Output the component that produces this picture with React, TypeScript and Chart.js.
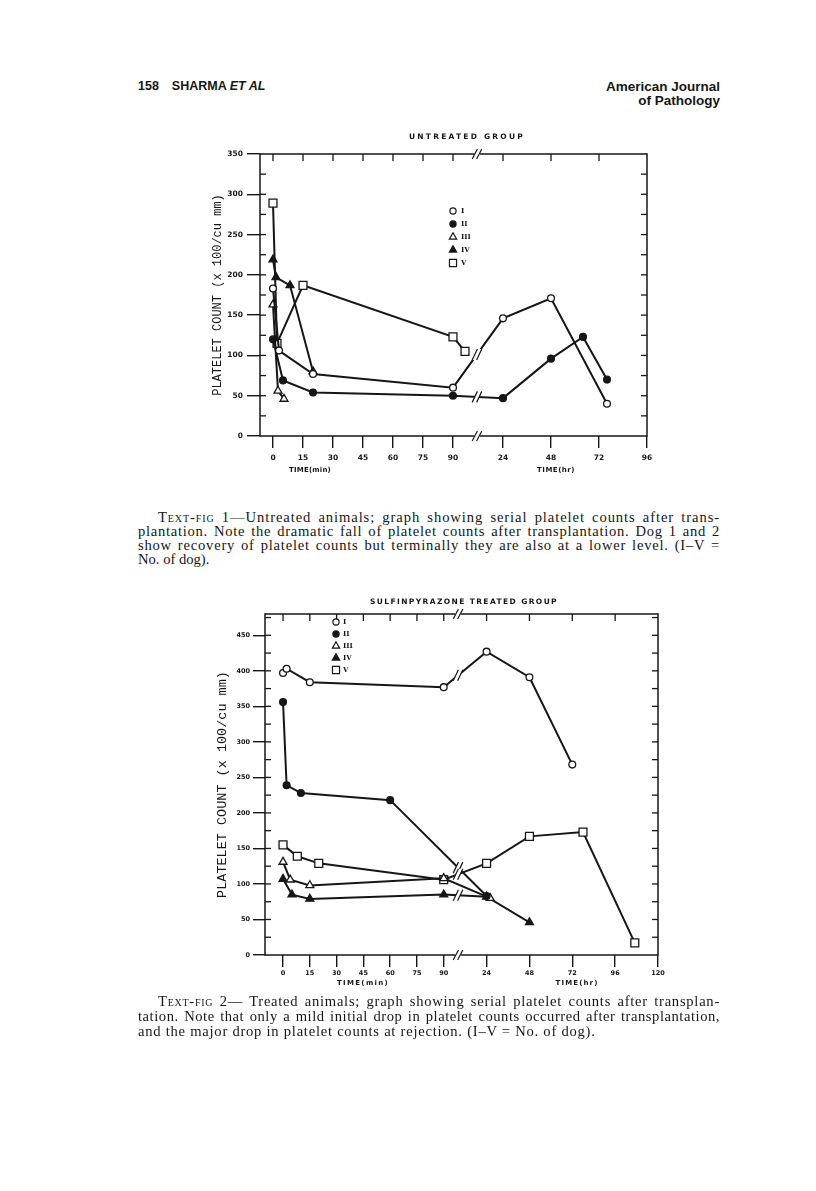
import React, { useEffect, useLayoutEffect, useRef } from 'react';
import { Chart, registerables } from 'chart.js';

Chart.register(...registerables);

// ---------------- data ----------------
const SERIES_NAMES = ['I', 'II', 'III', 'IV', 'V'];
const X_MIN_TICKS = [0, 15, 30, 45, 60, 75, 90];
const X1_HR_TICKS = [24, 48, 72, 96];
const X2_HR_TICKS = [24, 48, 72, 96, 120];
const Y1_TICKS = [0, 50, 100, 150, 200, 250, 300, 350];
const Y2_TICKS = [0, 50, 100, 150, 200, 250, 300, 350, 400, 450];

// Text-fig 1: untreated group ("m" = minutes, "h" = hours)
const UNTREATED_TIME_I = ['0m', '3m', '20m', '90m', '24h', '48h', '76h'];
const UNTREATED_COUNT_I = [183, 106, 77, 60, 146, 171, 40];
const UNTREATED_TIME_II = ['0m', '5m', '20m', '90m', '24h', '48h', '64h', '76h'];
const UNTREATED_COUNT_II = [120, 69, 54, 50, 47, 96, 123, 70];
const UNTREATED_TIME_III = ['0m', '2.5m', '5.5m'];
const UNTREATED_COUNT_III = [163, 56, 46];
const UNTREATED_TIME_IV = ['0m', '1.5m', '8.5m', '20m'];
const UNTREATED_COUNT_IV = [219, 197, 187, 80];
const UNTREATED_TIME_V = ['0m', '2m', '15m', '90m', '96m'];
const UNTREATED_COUNT_V = [289, 115, 187, 123, 105];

// Text-fig 2: sulfinpyrazone treated group
const TREATED_TIME_I = ['0m', '2m', '15m', '90m', '24h', '48h', '72h'];
const TREATED_COUNT_I = [397, 403, 384, 377, 427, 391, 268];
const TREATED_TIME_II = ['0m', '2m', '10m', '60m', '24h'];
const TREATED_COUNT_II = [356, 239, 228, 218, 83];
const TREATED_TIME_III = ['0m', '4m', '15m', '90m', '26h'];
const TREATED_COUNT_III = [131, 106, 98, 108, 80];
const TREATED_TIME_IV = ['0m', '5m', '15m', '90m', '24h', '48h'];
const TREATED_COUNT_IV = [107, 85, 79, 85, 82, 46];
const TREATED_TIME_V = ['0m', '8m', '20m', '90m', '24h', '48h', '78h', '107h'];
const TREATED_COUNT_V = [155, 139, 129, 106, 129, 167, 173, 17];

// ---------------- styles ----------------
const INK = '#161616';
const MARKERS = [
  { style: 'circle', fill: '#ffffff', r: 3.4 },
  { style: 'circle', fill: INK, r: 3.4 },
  { style: 'triangle', fill: '#ffffff', r: 4.6 },
  { style: 'triangle', fill: INK, r: 4.6 },
  { style: 'rect', fill: '#ffffff', r: 5.6 },
];

const CHART1 = {
  left: 190, top: 120, width: 480, height: 370,
  padding: { top: 34, right: 23, bottom: 0, left: 0 },
  yAxisW: 70, xAxisH: 54,
  xMin: -6.5, xMax: 187, hrOffset: 115, breakAt: 102,
  yMax: 350, yTicks: Y1_TICKS, hrTicks: X1_HR_TICKS,
  yTickLen: 13, yTickPad: 4, xTickLen: 12, xTickPad: 6, tickFont: 7.5,
  yTitleSize: 12, yTitlePad: 21,
  times: [UNTREATED_TIME_I, UNTREATED_TIME_II, UNTREATED_TIME_III, UNTREATED_TIME_IV, UNTREATED_TIME_V],
  counts: [UNTREATED_COUNT_I, UNTREATED_COUNT_II, UNTREATED_COUNT_III, UNTREATED_COUNT_IV, UNTREATED_COUNT_V],
  breakMarks: [true, true, false, false, false],
  title: 'UNTREATED GROUP', titleX: 277, titleY: 17, titleW: 116,
  xTitles: [
    { t: 'TIME(min)', x: 120, y: 350, w: 42 },
    { t: 'TIME(hr)', x: 366, y: 350, w: 38 },
  ],
  legendX: 263, legendY: 91, legendStep: 13, legendTextX: 271,
};

const CHART2 = {
  left: 190, top: 590, width: 480, height: 410,
  padding: { top: 24, right: 12, bottom: 0, left: 0 },
  yAxisW: 75, xAxisH: 45,
  xMin: -10.1, xMax: 210, hrOffset: 114, breakAt: 98,
  yMax: 480, yTicks: Y2_TICKS, hrTicks: X2_HR_TICKS,
  yTickLen: 12, yTickPad: 3, xTickLen: 12, xTickPad: 2, tickFont: 6.5,
  yTitleSize: 13.5, yTitlePad: 24,
  times: [TREATED_TIME_I, TREATED_TIME_II, TREATED_TIME_III, TREATED_TIME_IV, TREATED_TIME_V],
  counts: [TREATED_COUNT_I, TREATED_COUNT_II, TREATED_COUNT_III, TREATED_COUNT_IV, TREATED_COUNT_V],
  breakMarks: [true, true, false, true, true],
  title: 'SULFINPYRAZONE TREATED GROUP', titleX: 274, titleY: 12, titleW: 188,
  xTitles: [
    { t: 'TIME(min)', x: 173, y: 393, w: 52 },
    { t: 'TIME(hr)', x: 387, y: 393, w: 43 },
  ],
  legendX: 146, legendY: 32, legendStep: 12, legendTextX: 153,
};

type Spec = typeof CHART1;

function toPos(t: string, hrOffset: number): number {
  const v = parseFloat(t);
  return t.endsWith('h') ? hrOffset + (v - 24) : v;
}

function line(ctx: CanvasRenderingContext2D, x1: number, y1: number, x2: number, y2: number) {
  ctx.beginPath();
  ctx.moveTo(x1, y1);
  ctx.lineTo(x2, y2);
  ctx.stroke();
}

function slashes(ctx: CanvasRenderingContext2D, x: number, y: number, h: number) {
  const d = 2.2, s = 2.6;
  ctx.save();
  ctx.fillStyle = '#ffffff';
  ctx.beginPath();
  ctx.moveTo(x - d - s, y + h / 2);
  ctx.lineTo(x - d + s, y - h / 2);
  ctx.lineTo(x + d + s, y - h / 2);
  ctx.lineTo(x + d - s, y + h / 2);
  ctx.closePath();
  ctx.fill();
  ctx.lineWidth = 1.2;
  line(ctx, x - d - s, y + h / 2, x - d + s, y - h / 2);
  line(ctx, x + d - s, y + h / 2, x + d + s, y - h / 2);
  ctx.restore();
}

function spacedText(ctx: CanvasRenderingContext2D, text: string, cx: number, cy: number, width: number, font: string) {
  const c: any = ctx;
  ctx.font = font;
  c.letterSpacing = '0px';
  const w0 = ctx.measureText(text).width;
  const ls = Math.max(0, (width - w0) / text.length);
  c.letterSpacing = ls + 'px';
  ctx.textAlign = 'left';
  ctx.textBaseline = 'middle';
  ctx.fillText(text, cx - width / 2, cy);
  c.letterSpacing = '0px';
}

function marker(ctx: CanvasRenderingContext2D, style: string, fill: string, r: number, x: number, y: number) {
  ctx.beginPath();
  if (style === 'circle') {
    ctx.arc(x, y, r, 0, Math.PI * 2);
  } else if (style === 'triangle') {
    let a = 0;
    ctx.moveTo(x + Math.sin(a) * r, y - Math.cos(a) * r);
    a += (2 * Math.PI) / 3;
    ctx.lineTo(x + Math.sin(a) * r, y - Math.cos(a) * r);
    a += (2 * Math.PI) / 3;
    ctx.lineTo(x + Math.sin(a) * r, y - Math.cos(a) * r);
    ctx.closePath();
  } else {
    const s = r * Math.SQRT1_2;
    ctx.rect(x - s, y - s, 2 * s, 2 * s);
  }
  ctx.fillStyle = fill;
  ctx.fill();
  ctx.lineWidth = 1.2;
  ctx.strokeStyle = INK;
  ctx.stroke();
}

const paperPlugin = {
  id: 'paper',
  afterDatasetsDraw(chart: any) {
    const spec: Spec = chart.options.plugins.paper.spec;
    const ctx: CanvasRenderingContext2D = chart.ctx;
    const xs = chart.scales.x;
    const bx = xs.getPixelForValue(spec.breakAt);
    ctx.save();
    ctx.strokeStyle = INK;
    chart.data.datasets.forEach((ds: any, i: number) => {
      if (!spec.breakMarks[i]) return;
      const meta = chart.getDatasetMeta(i);
      const pts = meta.data;
      for (let j = 0; j < pts.length - 1; j++) {
        const p = pts[j], q = pts[j + 1];
        if (p.x < bx && q.x > bx) {
          const t = (bx - p.x) / (q.x - p.x);
          const y = p.y + t * (q.y - p.y);
          slashes(ctx, bx, y, 11);
        }
      }
    });
    ctx.restore();
  },
  afterDraw(chart: any) {
    const spec: Spec = chart.options.plugins.paper.spec;
    const ctx: CanvasRenderingContext2D = chart.ctx;
    const a = chart.chartArea;
    const xs = chart.scales.x;
    const ys = chart.scales.y;
    const bx = xs.getPixelForValue(spec.breakAt);
    ctx.save();
    ctx.strokeStyle = INK;
    ctx.fillStyle = INK;
    ctx.lineWidth = 1.5;
    // frame
    line(ctx, a.left, a.top - 0.75, a.left, a.bottom + 0.75);
    line(ctx, a.right, a.top - 0.75, a.right, a.bottom + 0.75);
    line(ctx, a.left, a.top, bx - 3, a.top);
    line(ctx, bx + 3, a.top, a.right, a.top);
    line(ctx, a.left, a.bottom, bx - 3, a.bottom);
    line(ctx, bx + 3, a.bottom, a.right, a.bottom);
    slashes(ctx, bx, a.top, 10);
    slashes(ctx, bx, a.bottom, 10);
    ctx.lineWidth = 1.3;
    // minor y ticks, inward, both sides
    for (let v = 25; v < spec.yMax; v += 25) {
      const y = ys.getPixelForValue(v);
      line(ctx, a.left, y, a.left + 6, y);
      line(ctx, a.right - 6, y, a.right, y);
    }
    // top ticks, inward
    const xt = X_MIN_TICKS.concat(spec.hrTicks.map((h) => spec.hrOffset + h - 24));
    xt.forEach((v) => {
      if (v >= spec.xMax) return;
      const x = xs.getPixelForValue(v);
      line(ctx, x, a.top, x, a.top + 7);
    });
    // title
    spacedText(ctx, spec.title, spec.titleX, spec.titleY, spec.titleW, 'bold 7.5px "DejaVu Sans"');
    // x titles
    spec.xTitles.forEach((o) => spacedText(ctx, o.t, o.x, o.y, o.w, 'bold 7px "DejaVu Sans"'));
    // legend
    SERIES_NAMES.forEach((name, i) => {
      const y = spec.legendY + i * spec.legendStep;
      const m = MARKERS[i];
      marker(ctx, m.style, m.fill, m.style === 'rect' ? 5 : m.style === 'triangle' ? 4.2 : 3.1, spec.legendX, y);
      ctx.fillStyle = INK;
      ctx.font = 'bold 7px "DejaVu Serif"';
      ctx.textAlign = 'left';
      ctx.textBaseline = 'middle';
      ctx.fillText(name, spec.legendTextX, y + 0.5);
    });
    ctx.restore();
  },
};

function buildConfig(spec: Spec): any {
  const xTickPos = X_MIN_TICKS.concat(spec.hrTicks.map((h) => spec.hrOffset + h - 24));
  const xTickLabels = X_MIN_TICKS.map(String).concat(spec.hrTicks.map(String));
  const datasets = SERIES_NAMES.map((name, i) => {
    const m = MARKERS[i];
    return {
      label: name,
      data: spec.times[i].map((t, j) => ({ x: toPos(t, spec.hrOffset), y: spec.counts[i][j] })),
      borderColor: INK,
      borderWidth: 2,
      pointStyle: m.style,
      pointRadius: m.r,
      pointHoverRadius: m.r,
      pointBackgroundColor: m.fill,
      pointBorderColor: INK,
      pointBorderWidth: 1.3,
      tension: 0,
      fill: false,
    };
  });
  const tickFont = { family: 'DejaVu Sans', size: spec.tickFont, weight: 'bold' };
  return {
    type: 'line',
    data: { datasets },
    plugins: [paperPlugin],
    options: {
      animation: false,
      responsive: false,
      maintainAspectRatio: false,
      events: [],
      layout: { padding: spec.padding },
      plugins: {
        legend: { display: false },
        tooltip: { enabled: false },
        title: { display: false },
        paper: { spec },
      },
      scales: {
        x: {
          type: 'linear',
          min: spec.xMin,
          max: spec.xMax,
          afterBuildTicks: (s: any) => {
            s.ticks = xTickPos.map((v) => ({ value: v }));
          },
          afterFit: (s: any) => {
            s.height = spec.xAxisH;
          },
          grid: { display: true, drawOnChartArea: false, drawTicks: true, tickLength: spec.xTickLen, color: INK, lineWidth: 1.4 },
          border: { display: false },
          ticks: {
            autoSkip: false,
            maxRotation: 0,
            padding: spec.xTickPad,
            color: INK,
            font: tickFont,
            callback: (_v: any, i: number) => xTickLabels[i],
          },
        },
        y: {
          type: 'linear',
          min: 0,
          max: spec.yMax,
          afterBuildTicks: (s: any) => {
            s.ticks = spec.yTicks.map((v) => ({ value: v }));
          },
          afterFit: (s: any) => {
            s.width = spec.yAxisW;
          },
          grid: { display: true, drawOnChartArea: false, drawTicks: true, tickLength: spec.yTickLen, color: INK, lineWidth: 1.4 },
          border: { display: false },
          ticks: { padding: spec.yTickPad, color: INK, font: tickFont },
          title: {
            display: true,
            text: 'PLATELET COUNT (x 100/cu mm)',
            color: INK,
            font: { family: 'Liberation Mono', size: spec.yTitleSize },
            padding: { top: spec.yTitlePad, bottom: 0 },
          },
        },
      },
    },
  };
}

function PaperChart({ spec }: { spec: Spec }) {
  const ref = useRef<HTMLCanvasElement>(null);
  useEffect(() => {
    const chart = new Chart(ref.current as HTMLCanvasElement, buildConfig(spec));
    return () => chart.destroy();
  }, [spec]);
  return (
    <canvas
      ref={ref}
      width={spec.width}
      height={spec.height}
      style={{ position: 'absolute', left: spec.left, top: spec.top, width: spec.width, height: spec.height }}
    />
  );
}

const CAPTION_W = 582;

// One caption line; justified lines get a little letter spacing so the
// word gaps stay close to the printed page.
function CapLine({ children, indent = 0, justify = true, spacing = 0 }: { children: React.ReactNode; indent?: number; justify?: boolean; spacing?: number }) {
  const ref = useRef<HTMLDivElement>(null);
  useLayoutEffect(() => {
    const el = ref.current;
    if (!el || !justify) return;
    const span = el.firstElementChild as HTMLElement;
    el.style.textAlign = 'left';
    el.style.textAlignLast = 'left';
    el.style.letterSpacing = '0px';
    const w = span.getBoundingClientRect().width;
    const n = (span.textContent || '').length;
    const spare = CAPTION_W - indent - w;
    const ls = Math.max(-0.4, Math.min(1.3, (spare * 0.75) / n));
    el.style.letterSpacing = ls + 'px';
    el.style.textAlign = 'justify';
    el.style.textAlignLast = 'justify';
  }, [indent, justify]);
  return (
    <div
      ref={ref}
      style={{
        textAlign: justify ? 'justify' : 'left',
        textAlignLast: justify ? 'justify' : 'left',
        paddingLeft: indent,
        whiteSpace: 'nowrap',
        letterSpacing: spacing,
      }}
    >
      <span>{children}</span>
    </div>
  );
}

const sc: React.CSSProperties = { fontVariant: 'small-caps' };

export default function App() {
  return (
    <div style={{ position: 'absolute', left: 0, top: 0, width: 816, height: 1191, background: '#fff', color: INK, overflow: 'hidden' }}>
      <div style={{ position: 'absolute', left: 138, top: 80, font: 'bold 12.5px "Liberation Sans"', lineHeight: '13px', whiteSpace: 'nowrap' }}>
        158<span style={{ display: 'inline-block', width: 13 }} />SHARMA <i>ET AL</i>
      </div>
      <div style={{ position: 'absolute', right: 96, top: 80, font: 'bold 13.5px "Liberation Sans"', lineHeight: '14px', textAlign: 'right', whiteSpace: 'nowrap' }}>
        American Journal
        <br />
        of Pathology
      </div>

      <PaperChart spec={CHART1} />
      <PaperChart spec={CHART2} />

      <div style={{ position: 'absolute', left: 138, top: 510, width: CAPTION_W, font: '14.6px "Liberation Serif"', lineHeight: '14px' }}>
        <CapLine indent={20}>
          <span style={sc}>Text-fig</span> 1—Untreated animals; graph showing serial platelet counts after trans-
        </CapLine>
        <CapLine>plantation. Note the dramatic fall of platelet counts after transplantation. Dog 1 and 2</CapLine>
        <CapLine>show recovery of platelet counts but terminally they are also at a lower level. (I–V =</CapLine>
        <CapLine justify={false}>No. of dog).</CapLine>
      </div>

      <div style={{ position: 'absolute', left: 138, top: 994, width: CAPTION_W, font: '14.6px "Liberation Serif"', lineHeight: '15px' }}>
        <CapLine indent={20}>
          <span style={sc}>Text-fig</span> 2— Treated animals; graph showing serial platelet counts after transplan-
        </CapLine>
        <CapLine>tation. Note that only a mild initial drop in platelet counts occurred after transplantation,</CapLine>
        <CapLine justify={false} spacing={0.75}>and the major drop in platelet counts at rejection. (I–V = No. of dog).</CapLine>
      </div>
    </div>
  );
}
